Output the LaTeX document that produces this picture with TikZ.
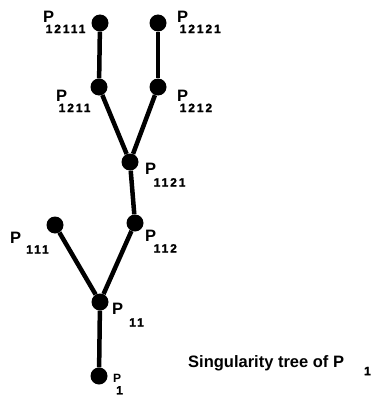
\documentclass[tikz,border=0pt]{standalone}
\usepackage{fontspec}
\setmainfont{Liberation Sans}
\newfontfamily\subf[LetterSpace=16, FakeBold=1.5]{Liberation Sans Bold}
\usetikzlibrary{positioning}

% P with a lowered index: kern, lowering, index
\newcommand{\pidx}[3]{P\kern#1\raisebox{-#2}{\fontsize{12}{12}\subf #3}}

\begin{document}
\begin{tikzpicture}[x=1pt, y=-1pt,
    dot/.style={circle, fill, inner sep=0pt, minimum size=17pt},
    edge/.style={line width=4.5pt},
    lbl/.style={inner sep=0pt, anchor=north west, font=\fontsize{16.5}{18}\selectfont\bfseries}
]
    \useasboundingbox (0,0) rectangle (372,396);

    \node[dot] (p12111) at (100,23) {};
    \node[dot] (p12121) at (158,23) {};
    \node[dot] (p1211) at (99,87) {};
    \node[dot] (p1212) at (158,87) {};
    \node[dot] (p1121) at (130,162) {};
    \node[dot] (p112) at (135,223) {};
    \node[dot] (p111) at (55,225) {};
    \node[dot] (p11) at (100,302) {};
    \node[dot] (p1) at (99,376) {};

    \draw[edge] (p12111) -- (p1211);
    \draw[edge] (p12121) -- (p1212);
    \draw[edge] (p1211) -- (p1121);
    \draw[edge] (p1212) -- (p1121);
    \draw[edge] (p1121) -- (p112);
    \draw[edge] (p111) -- (p11);
    \draw[edge] (p112) -- (p11);
    \draw[edge] (p11) -- (p1);

    \node[lbl] (l12111) at (43,11) {\pidx{-8.5pt}{10.5pt}{12111}};
    \node[lbl] (l12121) at (177,11) {\pidx{-8.5pt}{10.5pt}{12121}};
    \node[lbl] (l1211) at (56,90) {\pidx{-8.5pt}{10.5pt}{1211}};
    \node[lbl] (l1212) at (177,90) {\pidx{-8.5pt}{10.5pt}{1212}};
    \node[lbl] (l1121) at (145,163) {\pidx{-2.5pt}{12pt}{1121}};
    \node[lbl] (l112) at (145,230) {\pidx{-2.5pt}{11pt}{112}};
    \node[lbl] (l111) at (10,232) {\pidx{5pt}{10pt}{111}};
    \node[lbl] (l11) at (112,303) {\pidx{6pt}{12pt}{11}};
    \node[lbl] (l1) at (113,374) {\fontsize{12}{12}\selectfont\pidx{-5pt}{12pt}{1}};

    \node[lbl] (title) at (188,355) {Singularity tree of \pidx{20pt}{8pt}{1}};
\end{tikzpicture}
\end{document}
